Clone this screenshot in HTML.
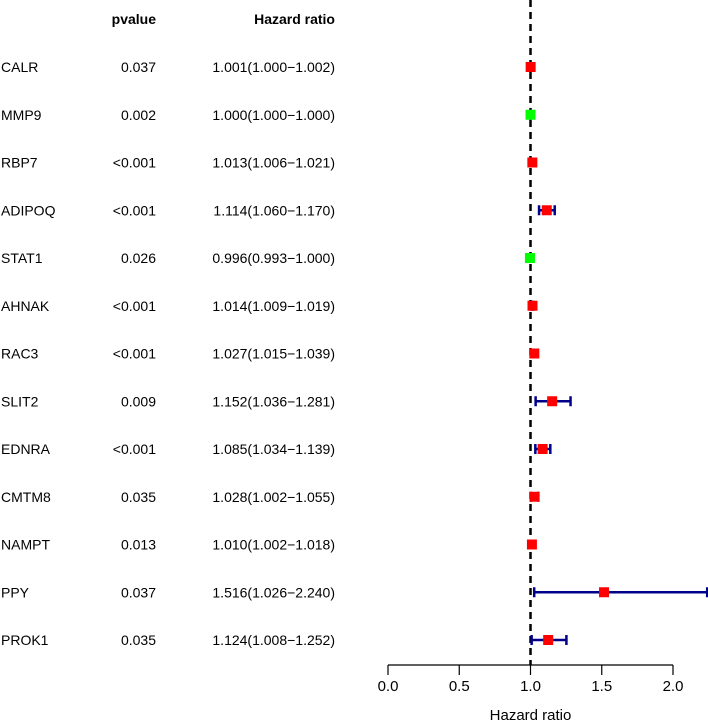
<!DOCTYPE html>
<html><head><meta charset="utf-8"><style>
html,body{margin:0;padding:0;background:#fff;}
svg{display:block;font-family:"Liberation Sans",Arial,sans-serif;}
</style></head><body>
<svg id="chart" width="708" height="721" viewBox="0 0 708 721" xmlns="http://www.w3.org/2000/svg">
<g id="table"></g>
<g id="plot"></g>
</svg>
<script>
const genes = ["CALR","MMP9","RBP7","ADIPOQ","STAT1","AHNAK","RAC3","SLIT2","EDNRA","CMTM8","NAMPT","PPY","PROK1"];
const pvalues = ["0.037","0.002","<0.001","<0.001","0.026","<0.001","<0.001","0.009","<0.001","0.035","0.013","0.037","0.035"];
const hr = [1.001,1.000,1.013,1.114,0.996,1.014,1.027,1.152,1.085,1.028,1.010,1.516,1.124];
const lower = [1.000,1.000,1.006,1.060,0.993,1.009,1.015,1.036,1.034,1.002,1.002,1.026,1.008];
const upper = [1.002,1.000,1.021,1.170,1.000,1.019,1.039,1.281,1.139,1.055,1.018,2.240,1.252];
const xTicks = [0.0,0.5,1.0,1.5,2.0];
const xTickLabels = ["0.0","0.5","1.0","1.5","2.0"];

const NS="http://www.w3.org/2000/svg";
function mk(tag, attrs, parent){const e=document.createElementNS(NS,tag);for(const k in attrs)e.setAttribute(k,attrs[k]);parent.appendChild(e);return e;}
const xScale = v => 388 + (v-0)*142.5;
const yScale = i => 67 + i*47.75;
const table=document.getElementById('table'), plot=document.getElementById('plot');
const fmt = v => v.toFixed(3);
const FS=14;

let t=mk('text',{x:156,y:24,'text-anchor':'end','font-size':FS,'font-weight':'bold'},table);t.textContent='pvalue';


t=mk('text',{x:335,y:24,'text-anchor':'end','font-size':FS,'font-weight':'bold'},table);t.textContent='Hazard ratio';



let rl=mk('line',{x1:xScale(1),x2:xScale(1),y1:0,y2:665,stroke:'#000','stroke-width':2.5,'stroke-dasharray':'7,5'},plot);



genes.forEach((g,i)=>{
  const y=yScale(i);
  let a=mk('text',{x:1,y:y+5,'font-size':FS},table);a.textContent=g;
  
  
  let b=mk('text',{x:156,y:y+5,'font-size':FS,'text-anchor':'end'},table);b.textContent=pvalues[i];
  
  
  let c=mk('text',{x:335,y:y+5,'font-size':FS,'text-anchor':'end'},table);
  c.textContent=fmt(hr[i])+'('+fmt(lower[i])+'\u2212'+fmt(upper[i])+')';
  
  
  const x1=xScale(lower[i]),x2=xScale(upper[i]);
  const eb=mk('g',{stroke:'#00008B','stroke-width':2.5},plot);
  
  
  mk('line',{x1:x1,x2:x2,y1:y,y2:y},eb);
  mk('line',{x1:x1,x2:x1,y1:y-5,y2:y+5},eb);
  mk('line',{x1:x2,x2:x2,y1:y-5,y2:y+5},eb);
  const bx=mk('rect',{x:xScale(hr[i])-5,y:y-5,width:10,height:10,fill:hr[i]>1?'#FF0000':'#00FF00'},plot);
  
  
});

const ax=mk('g',{},plot);


mk('line',{x1:xScale(xTicks[0]),x2:xScale(xTicks[xTicks.length-1]),y1:665,y2:665,stroke:'#000','stroke-width':1.2},ax);
xTicks.forEach((v,i)=>{
  mk('line',{x1:xScale(v),x2:xScale(v),y1:665,y2:675,stroke:'#000','stroke-width':1.2},ax);
  const l=mk('text',{x:xScale(v),y:691,'font-size':15,'text-anchor':'middle'},ax);l.textContent=xTickLabels[i];
  
  
});
const tt=mk('text',{x:xScale(1),y:720,'font-size':15,'text-anchor':'middle'},ax);tt.textContent='Hazard ratio';


</script>
</body></html>
